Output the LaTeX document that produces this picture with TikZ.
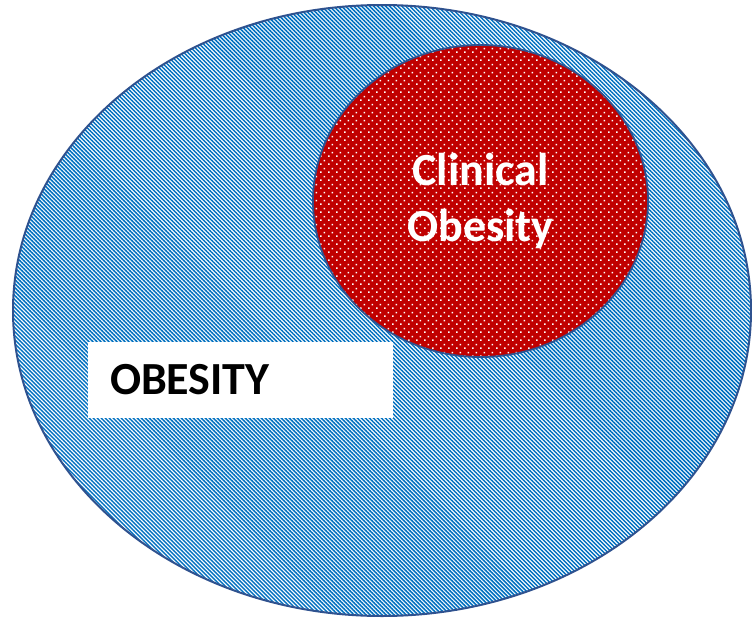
\documentclass[tikz,border=0pt]{standalone}
\usepackage{fontspec}
\setmainfont{Carlito}
\usetikzlibrary{shapes.geometric,patterns,patterns.meta}
\definecolor{hatchblue}{HTML}{0070C0}
\definecolor{edgeblue}{HTML}{2F528F}
\definecolor{clinred}{HTML}{C00000}
\tikzdeclarepattern{
  name=wdots,
  type=uncolored,
  bounding box={(0pt,0pt) and (8pt,8pt)},
  tile size={(8pt,8pt)},
  code={
    \fill (0pt,0pt) rectangle (1.7pt,1.7pt);
    \fill (4pt,4pt) rectangle (5.7pt,5.7pt);
  }
}
\tikzset{
  outer/.style={ellipse, draw=edgeblue, line width=2pt, inner sep=0pt, outer sep=0pt,
    preaction={fill=white},
    pattern={Lines[angle=-45,distance=2.83pt,line width=1.5pt]}, pattern color=hatchblue},
  inner/.style={ellipse, draw=edgeblue, line width=1.8pt, inner sep=0pt, outer sep=0pt,
    preaction={fill=clinred},
    pattern=wdots, pattern color=white,
    text=white, align=center, font=\bfseries\fontsize{46}{56}\selectfont},
  labelbox/.style={fill=white, draw=none, inner ysep=0pt, inner xsep=22pt, outer sep=0pt,
    minimum width=305pt, minimum height=76pt, text width=261pt, align=left,
    font=\bfseries\fontsize{46}{56}\selectfont, text=black}
}
\begin{document}
\begin{tikzpicture}[x=1pt,y=-1pt]
\useasboundingbox (0,0) rectangle (752,621);
\node[outer, minimum width=738pt, minimum height=611pt] (obesity) at (382,310.5) {};
\node[labelbox, anchor=north west] (obelabel) at (88,342) {OBESITY};
\node[inner, minimum width=335pt, minimum height=312pt] (clinical) at (480.5,201) {Clinical\\Obesity};
\end{tikzpicture}
\end{document}
